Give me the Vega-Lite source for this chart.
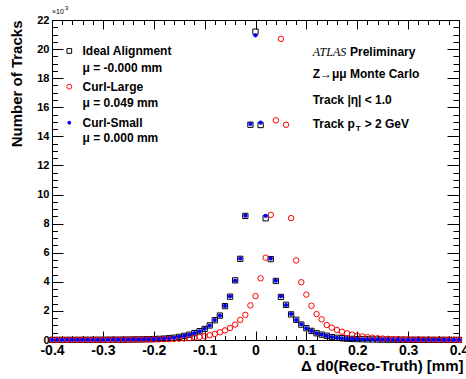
{
  "$schema": "https://vega.github.io/schema/vega-lite/v6.json",
  "width": 407,
  "height": 320,
  "autosize": "none",
  "padding": {"left": 52, "top": 20, "right": 7, "bottom": 39},
  "background": "white",
  "config": {
    "view": {"stroke": "black", "strokeWidth": 1},
    "font": "Liberation Sans",
    "axis": {"domain": false, "grid": false, "tickColor": "black", "tickWidth": 1, "labelFlush": false, "labelOverlap": false, "labelBound": false},
    "text": {"font": "Liberation Sans", "fontSize": 12, "fontWeight": "bold", "color": "black", "align": "left", "baseline": "middle"}
  },
  "data": {"values": [
    {"d0": -0.40, "ideal": 7, "large": 8, "small": 7},
    {"d0": -0.39, "ideal": 7, "large": 8, "small": 7},
    {"d0": -0.38, "ideal": 8, "large": 9, "small": 8},
    {"d0": -0.37, "ideal": 9, "large": 9, "small": 9},
    {"d0": -0.36, "ideal": 9, "large": 10, "small": 9},
    {"d0": -0.35, "ideal": 10, "large": 11, "small": 10},
    {"d0": -0.34, "ideal": 11, "large": 12, "small": 11},
    {"d0": -0.33, "ideal": 12, "large": 13, "small": 12},
    {"d0": -0.32, "ideal": 13, "large": 14, "small": 13},
    {"d0": -0.31, "ideal": 15, "large": 15, "small": 15},
    {"d0": -0.30, "ideal": 16, "large": 16, "small": 16},
    {"d0": -0.29, "ideal": 18, "large": 17, "small": 18},
    {"d0": -0.28, "ideal": 20, "large": 19, "small": 20},
    {"d0": -0.27, "ideal": 22, "large": 20, "small": 22},
    {"d0": -0.26, "ideal": 25, "large": 22, "small": 25},
    {"d0": -0.25, "ideal": 28, "large": 24, "small": 28},
    {"d0": -0.24, "ideal": 33, "large": 26, "small": 33},
    {"d0": -0.23, "ideal": 38, "large": 29, "small": 38},
    {"d0": -0.22, "ideal": 44, "large": 32, "small": 44},
    {"d0": -0.21, "ideal": 52, "large": 36, "small": 52},
    {"d0": -0.20, "ideal": 62, "large": 40, "small": 62},
    {"d0": -0.19, "ideal": 77, "large": 46, "small": 76},
    {"d0": -0.18, "ideal": 96, "large": 53, "small": 95},
    {"d0": -0.17, "ideal": 122, "large": 62, "small": 120},
    {"d0": -0.16, "ideal": 158, "large": 74, "small": 155},
    {"d0": -0.15, "ideal": 212, "large": 90, "small": 210},
    {"d0": -0.14, "ideal": 283, "large": 110, "small": 280},
    {"d0": -0.13, "ideal": 365, "large": 135, "small": 360},
    {"d0": -0.12, "ideal": 475, "large": 170, "small": 470},
    {"d0": -0.11, "ideal": 605, "large": 210, "small": 600},
    {"d0": -0.10, "ideal": 760, "large": 260, "small": 770},
    {"d0": -0.09, "ideal": 1000, "large": 330, "small": 990},
    {"d0": -0.08, "ideal": 1360, "large": 420, "small": 1370},
    {"d0": -0.07, "ideal": 1680, "large": 530, "small": 1670},
    {"d0": -0.06, "ideal": 2330, "large": 660, "small": 2340},
    {"d0": -0.05, "ideal": 2980, "large": 830, "small": 3000},
    {"d0": -0.04, "ideal": 4100, "large": 1060, "small": 4080},
    {"d0": -0.03, "ideal": 5580, "large": 1380, "small": 5600},
    {"d0": -0.02, "ideal": 8530, "large": 1730, "small": 8550},
    {"d0": -0.01, "ideal": 14800, "large": 2380, "small": 14850},
    {"d0": 0.00, "ideal": 21200, "large": 3020, "small": 20950},
    {"d0": 0.01, "ideal": 14780, "large": 4240, "small": 14940},
    {"d0": 0.02, "ideal": 8370, "large": 5660, "small": 8540},
    {"d0": 0.03, "ideal": 5560, "large": 8600, "small": 5600},
    {"d0": 0.04, "ideal": 4060, "large": 15100, "small": 4080},
    {"d0": 0.05, "ideal": 2960, "large": 20700, "small": 3000},
    {"d0": 0.06, "ideal": 2420, "large": 14800, "small": 2400},
    {"d0": 0.07, "ideal": 1760, "large": 8380, "small": 1780},
    {"d0": 0.08, "ideal": 1390, "large": 5470, "small": 1370},
    {"d0": 0.09, "ideal": 1060, "large": 3970, "small": 1080},
    {"d0": 0.10, "ideal": 810, "large": 3120, "small": 800},
    {"d0": 0.11, "ideal": 625, "large": 2350, "small": 620},
    {"d0": 0.12, "ideal": 465, "large": 1780, "small": 460},
    {"d0": 0.13, "ideal": 372, "large": 1420, "small": 370},
    {"d0": 0.14, "ideal": 292, "large": 1030, "small": 290},
    {"d0": 0.15, "ideal": 203, "large": 850, "small": 200},
    {"d0": 0.16, "ideal": 152, "large": 690, "small": 150},
    {"d0": 0.17, "ideal": 119, "large": 570, "small": 118},
    {"d0": 0.18, "ideal": 93, "large": 460, "small": 92},
    {"d0": 0.19, "ideal": 75, "large": 370, "small": 74},
    {"d0": 0.20, "ideal": 61, "large": 300, "small": 60},
    {"d0": 0.21, "ideal": 51, "large": 245, "small": 50},
    {"d0": 0.22, "ideal": 43, "large": 195, "small": 42},
    {"d0": 0.23, "ideal": 37, "large": 155, "small": 36},
    {"d0": 0.24, "ideal": 32, "large": 125, "small": 31},
    {"d0": 0.25, "ideal": 27, "large": 100, "small": 27},
    {"d0": 0.26, "ideal": 24, "large": 82, "small": 24},
    {"d0": 0.27, "ideal": 21, "large": 68, "small": 21},
    {"d0": 0.28, "ideal": 19, "large": 57, "small": 19},
    {"d0": 0.29, "ideal": 17, "large": 48, "small": 17},
    {"d0": 0.30, "ideal": 16, "large": 41, "small": 16},
    {"d0": 0.31, "ideal": 14, "large": 36, "small": 14},
    {"d0": 0.32, "ideal": 13, "large": 32, "small": 13},
    {"d0": 0.33, "ideal": 12, "large": 28, "small": 12},
    {"d0": 0.34, "ideal": 11, "large": 25, "small": 11},
    {"d0": 0.35, "ideal": 10, "large": 23, "small": 10},
    {"d0": 0.36, "ideal": 9, "large": 21, "small": 9},
    {"d0": 0.37, "ideal": 8, "large": 19, "small": 8},
    {"d0": 0.38, "ideal": 8, "large": 17, "small": 8},
    {"d0": 0.39, "ideal": 7, "large": 16, "small": 7},
    {"d0": 0.40, "ideal": 6, "large": 15, "small": 6}
  ]},
  "layer": [
    {
      "mark": {"type": "point", "shape": "square", "size": 28, "filled": false, "color": "black", "strokeWidth": 1, "opacity": 1},
      "encoding": {
        "x": {"field": "d0", "type": "quantitative", "scale": {"domain": [-0.4, 0.4], "nice": false, "zero": false},
          "axis": {"orient": "bottom",
            "values": [-0.4,-0.3,-0.2,-0.1,0,0.1,0.2,0.3,0.4],
            "tickSize": -9,
            "labelExpr": "datum.value == 0 ? '0' : replace(format(datum.value, '.1f'), '\u2212', '-')",
            "labelFont": "Liberation Sans", "labelFontWeight": "bold", "labelFontSize": 14, "labelColor": "black",
            "labelPadding": 12, "labelBaseline": "top", "labelAlign": "center",
            "title": "\u0394 d0(Reco-Truth) [mm]", "titleFont": "Liberation Sans", "titleFontWeight": "bold", "titleFontSize": 15, "titleColor": "black",
            "titleX": 411, "titleY": 25.5, "titleAlign": "right", "titleBaseline": "middle", "titleAngle": 0}},
        "y": {"field": "ideal", "type": "quantitative", "scale": {"domain": [0, 22000], "nice": false},
          "axis": {"orient": "left",
            "values": [0,2000,4000,6000,8000,10000,12000,14000,16000,18000,20000,22000],
            "tickSize": -11,
            "labelExpr": "format(datum.value/1000, 'd')",
            "labelFont": "Liberation Sans", "labelFontWeight": "bold", "labelFontSize": 11, "labelColor": "black",
            "labelPadding": 14, "labelAlign": "right", "labelBaseline": "middle",
            "title": "Number of Tracks", "titleFont": "Liberation Sans", "titleFontWeight": "bold", "titleFontSize": 15, "titleColor": "black",
            "titleX": -36, "titleY": 0, "titleAngle": 270, "titleAlign": "right", "titleBaseline": "middle"}}
      }
    },
    {
      "mark": {"type": "point", "shape": "circle", "size": 30, "filled": false, "color": "#ff0000", "strokeWidth": 1, "opacity": 1},
      "encoding": {
        "x": {"field": "d0", "type": "quantitative",
          "axis": {"orient": "top", "labels": false, "title": null,
            "values": [-0.4,-0.3,-0.2,-0.1,0,0.1,0.2,0.3,0.4], "tickSize": -9}},
        "y": {"field": "large", "type": "quantitative",
          "axis": {"orient": "right", "labels": false, "title": null,
            "values": [0,2000,4000,6000,8000,10000,12000,14000,16000,18000,20000,22000], "tickSize": -12}}
      }
    },
    {
      "mark": {"type": "point", "shape": "circle", "size": 18, "filled": true, "color": "#0000ff", "opacity": 1},
      "encoding": {
        "x": {"field": "d0", "type": "quantitative",
          "axis": {"orient": "bottom", "labels": false, "title": null,
            "values": [-0.38,-0.36,-0.34,-0.32,-0.28,-0.26,-0.24,-0.22,-0.18,-0.16,-0.14,-0.12,-0.08,-0.06,-0.04,-0.02,0.02,0.04,0.06,0.08,0.12,0.14,0.16,0.18,0.22,0.24,0.26,0.28,0.32,0.34,0.36,0.38],
            "tickSize": -4.5}},
        "y": {"field": "small", "type": "quantitative",
          "axis": {"orient": "left", "labels": false, "title": null,
            "values": [500,1000,1500,2500,3000,3500,4500,5000,5500,6500,7000,7500,8500,9000,9500,10500,11000,11500,12500,13000,13500,14500,15000,15500,16500,17000,17500,18500,19000,19500,20500,21000,21500],
            "tickSize": -5.5}}
      }
    },
    {"data": {"values": [{}]}, "mark": {"type": "point", "shape": "square", "size": 22, "filled": false, "color": "black", "strokeWidth": 1, "opacity": 1},
      "encoding": {
        "x": {"datum": -0.366,
          "axis": {"orient": "top", "labels": false, "title": null,
            "values": [-0.38,-0.36,-0.34,-0.32,-0.28,-0.26,-0.24,-0.22,-0.18,-0.16,-0.14,-0.12,-0.08,-0.06,-0.04,-0.02,0.02,0.04,0.06,0.08,0.12,0.14,0.16,0.18,0.22,0.24,0.26,0.28,0.32,0.34,0.36,0.38],
            "tickSize": -4.5}},
        "y": {"datum": 19870,
          "axis": {"orient": "right", "labels": false, "title": null,
            "values": [500,1000,1500,2500,3000,3500,4500,5000,5500,6500,7000,7500,8500,9000,9500,10500,11000,11500,12500,13000,13500,14500,15000,15500,16500,17000,17500,18500,19000,19500,20500,21000,21500],
            "tickSize": -6}}}},
    {"data": {"values": [{}]}, "mark": {"type": "point", "shape": "circle", "size": 24, "filled": false, "color": "#ff0000", "strokeWidth": 1, "opacity": 1},
      "encoding": {"x": {"datum": -0.366, "axis": null}, "y": {"datum": 17414, "axis": null}}},
    {"data": {"values": [{}]}, "mark": {"type": "point", "shape": "circle", "size": 14, "filled": true, "color": "#0000ff", "opacity": 1},
      "encoding": {"x": {"datum": -0.366, "axis": null}, "y": {"datum": 14939, "axis": null}}},
    {"data": {"values": [{}]}, "mark": {"type": "text", "text": "Ideal Alignment"},
      "encoding": {"x": {"datum": -0.34, "axis": null}, "y": {"datum": 19870, "axis": null}}},
    {"data": {"values": [{}]}, "mark": {"type": "text", "text": "\u03bc = -0.000 mm"},
      "encoding": {"x": {"datum": -0.34, "axis": null}, "y": {"datum": 18680, "axis": null}}},
    {"data": {"values": [{}]}, "mark": {"type": "text", "text": "Curl-Large"},
      "encoding": {"x": {"datum": -0.34, "axis": null}, "y": {"datum": 17414, "axis": null}}},
    {"data": {"values": [{}]}, "mark": {"type": "text", "text": "\u03bc = 0.049 mm"},
      "encoding": {"x": {"datum": -0.34, "axis": null}, "y": {"datum": 16314, "axis": null}}},
    {"data": {"values": [{}]}, "mark": {"type": "text", "text": "Curl-Small"},
      "encoding": {"x": {"datum": -0.34, "axis": null}, "y": {"datum": 14939, "axis": null}}},
    {"data": {"values": [{}]}, "mark": {"type": "text", "text": "\u03bc = 0.000 mm"},
      "encoding": {"x": {"datum": -0.34, "axis": null}, "y": {"datum": 13867, "axis": null}}},
    {"data": {"values": [{}]}, "mark": {"type": "text", "text": "ATLAS", "font": "Liberation Serif", "fontStyle": "italic", "fontWeight": "normal"},
      "encoding": {"x": {"datum": 0.1124, "axis": null}, "y": {"datum": 19821, "axis": null}}},
    {"data": {"values": [{}]}, "mark": {"type": "text", "text": "Preliminary"},
      "encoding": {"x": {"datum": 0.1858, "axis": null}, "y": {"datum": 19821, "axis": null}}},
    {"data": {"values": [{}]}, "mark": {"type": "text", "text": "Z\u2192\u03bc\u03bc Monte Carlo"},
      "encoding": {"x": {"datum": 0.1124, "axis": null}, "y": {"datum": 18267, "axis": null}}},
    {"data": {"values": [{}]}, "mark": {"type": "text", "text": "Track |\u03b7| < 1.0"},
      "encoding": {"x": {"datum": 0.1124, "axis": null}, "y": {"datum": 16500, "axis": null}}},
    {"data": {"values": [{}]}, "mark": {"type": "text", "text": "Track p"},
      "encoding": {"x": {"datum": 0.1124, "axis": null}, "y": {"datum": 14850, "axis": null}}},
    {"data": {"values": [{}]}, "mark": {"type": "text", "text": "T", "fontSize": 8, "dx": 43, "dy": 5},
      "encoding": {"x": {"datum": 0.1124, "axis": null}, "y": {"datum": 14850, "axis": null}}},
    {"data": {"values": [{}]}, "mark": {"type": "text", "text": "> 2 GeV", "dx": 52},
      "encoding": {"x": {"datum": 0.1124, "axis": null}, "y": {"datum": 14850, "axis": null}}},
    {"data": {"values": [{}]}, "mark": {"type": "text", "text": "\u00d710", "fontSize": 7, "fontWeight": "normal", "baseline": "alphabetic"},
      "encoding": {"x": {"datum": -0.4, "axis": null}, "y": {"datum": 22400, "axis": null}}},
    {"data": {"values": [{}]}, "mark": {"type": "text", "text": "3", "fontSize": 6, "fontWeight": "normal", "baseline": "alphabetic"},
      "encoding": {"x": {"datum": -0.3745, "axis": null}, "y": {"datum": 22700, "axis": null}}}
  ],
  "resolve": {"axis": {"x": "independent", "y": "independent"}}
}
